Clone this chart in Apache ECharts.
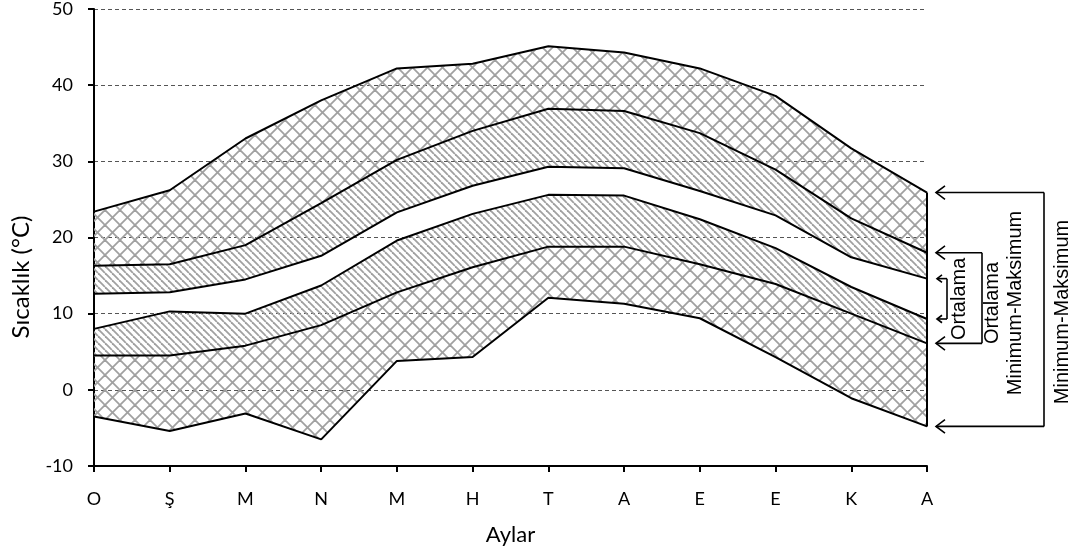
<!DOCTYPE html>
<html>
<head>
<meta charset="utf-8">
<style>
  html, body { margin: 0; padding: 0; background: #fff; }
  #chart { width: 1073px; height: 551px; }
</style>
<script src="https://cdn.jsdelivr.net/npm/echarts@6/dist/echarts.min.js"></script>
</head>
<body>
<div id="chart"></div>
<script>
// Months (Ocak ... Aralık)
const months = ['O', 'Ş', 'M', 'N', 'M', 'H', 'T', 'A', 'E', 'E', 'K', 'A'];

// Monthly temperatures (°C)
const maxTemp     = [23.4, 26.2, 33.0, 38.0, 42.2, 42.8, 45.1, 44.3, 42.2, 38.6, 31.7, 25.9];
const meanMaxTemp = [16.3, 16.5, 19.0, 24.5, 30.2, 34.0, 36.9, 36.6, 33.7, 28.9, 22.5, 18.0];
const avgHigh     = [12.6, 12.8, 14.5, 17.6, 23.3, 26.8, 29.3, 29.1, 26.1, 22.9, 17.4, 14.6];
const avgLow      = [ 8.0, 10.3, 10.0, 13.7, 19.6, 23.1, 25.6, 25.5, 22.4, 18.6, 13.5,  9.3];
const meanMinTemp = [ 4.5,  4.5,  5.8,  8.5, 12.8, 16.1, 18.8, 18.8, 16.5, 13.9, 10.0,  6.1];
const minTemp     = [-3.5, -5.4, -3.1, -6.5,  3.8,  4.3, 12.1, 11.3,  9.4,  4.3, -1.1, -4.8];

const yTicks = { min: -10, max: 50, interval: 10 };

// Hatch tiles used as area fills
function hatchTile(size, cross) {
  const c = document.createElement('canvas');
  c.width = size; c.height = size;
  const g = c.getContext('2d');
  g.strokeStyle = '#a0a0a0';
  g.lineWidth = 1.8;
  for (let k = -1; k <= 1; k++) {
    g.beginPath();
    g.moveTo(k * size, 0);
    g.lineTo(k * size + size, size);
    g.stroke();
    if (cross) {
      g.beginPath();
      g.moveTo(k * size, size);
      g.lineTo(k * size + size, 0);
      g.stroke();
    }
  }
  return c;
}
const crossFill = { image: hatchTile(15, true), repeat: 'repeat' };
const diagFill  = { image: hatchTile(7, false), repeat: 'repeat' };

// Bands stacked on the minimum line
const diff = (a, b) => a.map((v, i) => +(v - b[i]).toFixed(2));
const bands = [
  { data: minTemp, fill: null },
  { data: diff(meanMinTemp, minTemp), fill: crossFill },
  { data: diff(avgLow, meanMinTemp), fill: diagFill },
  { data: diff(avgHigh, avgLow), fill: null },
  { data: diff(meanMaxTemp, avgHigh), fill: diagFill },
  { data: diff(maxTemp, meanMaxTemp), fill: crossFill }
];

const labelFont = { fontFamily: 'Lato', fontSize: 18, color: '#000' };

const chart = echarts.init(document.getElementById('chart'), null, { renderer: 'canvas' });

chart.setOption({
  animation: false,
  backgroundColor: '#fff',
  grid: { left: 94, right: 146, top: 8, bottom: 85, containLabel: false },
  xAxis: {
    type: 'category',
    data: months,
    boundaryGap: false,
    name: 'Aylar',
    nameLocation: 'middle',
    nameGap: 58,
    nameTextStyle: { fontFamily: 'Lato', fontSize: 22, color: '#000' },
    axisLine: { onZero: false, lineStyle: { color: '#000', width: 2 } },
    axisTick: { show: true, length: 6, inside: false, lineStyle: { color: '#000', width: 2 } },
    axisLabel: Object.assign({ margin: 24, interval: 0 }, labelFont),
    splitLine: { show: false }
  },
  yAxis: {
    type: 'value',
    min: yTicks.min,
    max: yTicks.max,
    interval: yTicks.interval,
    axisLine: { show: true, lineStyle: { color: '#000', width: 2 } },
    axisTick: { show: true, length: 6, lineStyle: { color: '#000', width: 2 } },
    axisLabel: Object.assign({ margin: 21 }, labelFont),
    splitLine: { show: true, lineStyle: { color: '#555', width: 1, type: [4, 3] } }
  },
  series: bands.map((b, i) => ({
    type: 'line',
    stack: 'temp',
    stackStrategy: 'all',
    data: b.data,
    symbol: 'none',
    z: 3,
    lineStyle: { color: '#000', width: 2 },
    areaStyle: b.fill ? { color: b.fill, opacity: 1 } : undefined
  }))
});

// Right edge of the band and the bracket annotations
const last = months.length - 1;
const px = v => chart.convertToPixel({ xAxisIndex: 0, yAxisIndex: 0 }, [last, v]);
const [xEnd, yMax] = px(maxTemp[last]);
const yMin = px(minTemp[last])[1];
const yMeanMax = px(meanMaxTemp[last])[1];
const yMeanMin = px(meanMinTemp[last])[1];
const yAvgHigh = px(avgHigh[last])[1];
const yAvgLow = px(avgLow[last])[1];

const stroke = { stroke: '#000', lineWidth: 1.6, fill: null };
function arrow(tipX, y, toX, head) {
  return [
    { type: 'polyline', shape: { points: [[tipX + head, y - head * 0.75], [tipX, y], [tipX + head, y + head * 0.75]] }, style: stroke, z: 10 },
    { type: 'line', shape: { x1: tipX, y1: y, x2: toX, y2: y }, style: stroke, z: 10 }
  ];
}
function bracket(tipX, y1, y2, barX, head) {
  return [
    ...arrow(tipX, y1, barX, head),
    ...arrow(tipX, y2, barX, head),
    { type: 'line', shape: { x1: barX, y1: y1, x2: barX, y2: y2 }, style: stroke, z: 10 }
  ];
}
const tipX = xEnd + 9;
const annFont = { fontFamily: 'Liberation Sans', fontSize: 20, fill: '#000' };
function vtext(text, x, y) {
  return {
    type: 'text', x: x, y: y, rotation: Math.PI / 2, z: 10,
    style: Object.assign({ text: text, align: 'center', verticalAlign: 'middle', lineHeight: 23 }, annFont)
  };
}

chart.setOption({
  graphic: [
    { type: 'line', shape: { x1: xEnd, y1: yMax, x2: xEnd, y2: yMin }, style: { stroke: '#000', lineWidth: 2 }, z: 10 },
    ...bracket(tipX, yMax, yMin, 1044, 9),
    ...bracket(tipX, yMeanMax, yMeanMin, 982, 9),
    ...bracket(tipX + 1, yAvgHigh, yAvgLow, 947, 5),
    vtext('Ortalama', 959, (yAvgHigh + yAvgLow) / 2),
    vtext('Ortalama\nMinimum-Maksimum', 1004, 303),
    vtext('Minimum-Maksimum', 1062, 312),
    {
      type: 'text', x: 21, y: 277, rotation: Math.PI / 2, z: 10,
      style: { text: 'Sıcaklık (°C)', align: 'center', verticalAlign: 'middle', fontFamily: 'Lato', fontSize: 24, fill: '#000' }
    }
  ]
});
</script>
</body>
</html>
